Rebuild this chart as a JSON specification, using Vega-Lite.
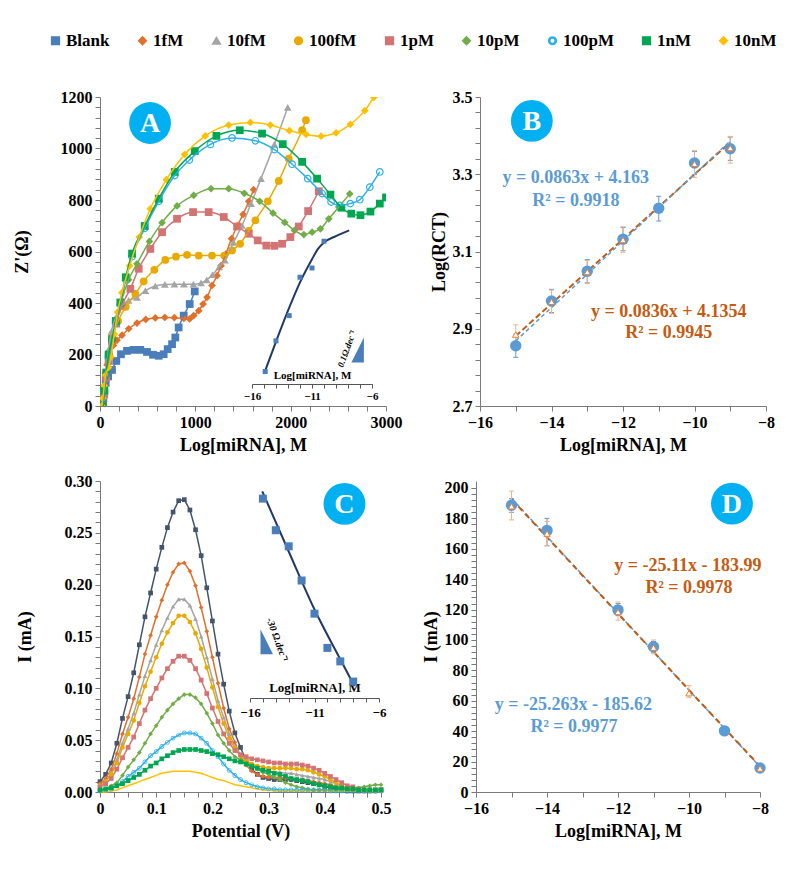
{
  "$schema": "https://vega.github.io/schema/vega-lite/v6.json",
  "background": "white",
  "padding": {"left": 13, "top": 32, "right": 5, "bottom": 5},
  "config": {
    "font": "Liberation Serif",
    "view": {"stroke": null},
    "axis": {"grid": false, "domainColor": "#7a7a7a", "tickColor": "#7a7a7a", "domainWidth": 1, "tickWidth": 1, "tickSize": 5, "labelFont": "Liberation Serif", "labelFontSize": 16, "labelFontWeight": "bold", "labelColor": "#000", "titleFont": "Liberation Serif", "titleFontSize": 18, "titleFontWeight": "bold", "titleColor": "#000", "labelPadding": 3, "labelFlush": false, "labelOverlap": false},
    "text": {"font": "Liberation Serif"}
  },
  "datasets": {
    "nyq": [
      {"s": "Blank", "x": [30,35,45,60,85,126,171,220,283,353,423,493,556,616,668,710,756,790,825,878,941,994], "y": [0,30,60,90,115,140,175,201,214,218,218,210,199,195,201,221,240,266,305,351,396,445]},
      {"s": "1fM", "x": [30,40,55,75,100,140,178,231,301,388,480,580,680,780,880,940,983,1036,1081,1123,1175,1228,1270,1320,1380,1440,1501,1560,1612], "y": [0,50,110,160,200,235,255,275,300,322,336,342,344,343,340,338,351,370,396,422,468,506,545,590,650,700,744,795,840]},
      {"s": "10fM", "x": [30,45,65,90,120,160,220,300,388,476,580,680,780,880,980,1060,1120,1180,1250,1311,1400,1490,1584,1689,1829,1969], "y": [0,60,140,220,290,340,385,410,422,448,466,472,473,473,473,478,490,510,540,566,635,701,786,883,1016,1160]},
      {"s": "100fM", "x": [30,45,65,90,130,190,270,371,458,570,685,797,913,1036,1175,1304,1385,1470,1560,1630,1760,1875,1980,2120,2160], "y": [0,60,130,200,270,330,385,435,484,529,567,580,587,584,584,584,604,630,680,721,795,874,961,1071,1110]},
      {"s": "1pM", "x": [30,45,65,90,125,170,230,318,406,528,651,808,976,1140,1298,1438,1560,1654,1745,1829,1910,1997,2085,2183,2295], "y": [0,45,110,175,250,320,390,455,533,610,675,727,753,753,734,697,669,643,623,622,630,656,697,757,834]},
      {"s": "10pM", "x": [30,45,65,90,125,170,225,300,388,518,651,808,983,1165,1350,1514,1675,1815,1938,2039,2138,2225,2312,2400,2505,2620], "y": [0,50,115,180,250,330,410,490,552,639,712,777,818,844,844,826,795,749,713,682,666,675,688,727,773,824]},
      {"s": "100pM", "x": [30,45,65,90,126,165,213,270,336,469,616,784,937,1158,1385,1630,1829,2015,2179,2330,2424,2515,2626,2725,2830,2935], "y": [0,55,125,190,250,320,395,490,580,690,795,895,955,1016,1041,1030,996,939,883,825,792,779,786,801,850,909]},
      {"s": "1nM", "x": [30,45,65,90,126,165,213,270,336,469,616,784,994,1221,1466,1700,1917,2120,2277,2417,2532,2636,2732,2837,2935,3000], "y": [0,60,130,200,260,330,402,500,592,699,805,909,990,1049,1071,1058,1017,948,883,821,770,747,741,755,786,810]},
      {"s": "10nM", "x": [20,30,45,60,90,115,150,185,230,311,412,528,696,888,1105,1350,1577,1787,1987,2161,2319,2476,2626,2777,2872], "y": [0,30,80,120,150,190,280,365,440,545,656,766,879,977,1049,1091,1101,1091,1069,1055,1048,1061,1094,1147,1199]}
    ],
    "ains_line": [{"x": -15, "y": 125}, {"x": -14, "y": 250}, {"x": -13, "y": 370}, {"x": -12, "y": 480}, {"x": -11, "y": 570}, {"x": -10.5, "y": 610}, {"x": -10, "y": 635}, {"x": -9, "y": 660}, {"x": -7.9, "y": 682}],
    "ains_pts": [{"x": -14.9, "y": 134}, {"x": -14, "y": 253}, {"x": -12.9, "y": 351}, {"x": -12, "y": 500}, {"x": -11, "y": 536}, {"x": -10, "y": 640}],
    "dpv": [
      {"v":0.00,"Blank":0.010,"1fM":0.008,"10fM":0.007,"100fM":0.006,"1pM":0.005,"10pM":0.002,"100pM":0.001,"1nM":0.002,"10nM":0.000},
      {"v":0.01,"Blank":0.017,"1fM":0.013,"10fM":0.011,"100fM":0.010,"1pM":0.008,"10pM":0.003,"100pM":0.002,"1nM":0.003,"10nM":0.000},
      {"v":0.02,"Blank":0.028,"1fM":0.022,"10fM":0.018,"100fM":0.017,"1pM":0.013,"10pM":0.006,"100pM":0.003,"1nM":0.004,"10nM":0.001},
      {"v":0.03,"Blank":0.047,"1fM":0.037,"10fM":0.031,"100fM":0.028,"1pM":0.022,"10pM":0.009,"100pM":0.006,"1nM":0.006,"10nM":0.002},
      {"v":0.04,"Blank":0.071,"1fM":0.056,"10fM":0.047,"100fM":0.043,"1pM":0.033,"10pM":0.016,"100pM":0.010,"1nM":0.008,"10nM":0.004},
      {"v":0.05,"Blank":0.092,"1fM":0.072,"10fM":0.061,"100fM":0.056,"1pM":0.043,"10pM":0.024,"100pM":0.015,"1nM":0.011,"10nM":0.006},
      {"v":0.06,"Blank":0.115,"1fM":0.090,"10fM":0.076,"100fM":0.069,"1pM":0.053,"10pM":0.031,"100pM":0.019,"1nM":0.014,"10nM":0.008},
      {"v":0.07,"Blank":0.142,"1fM":0.111,"10fM":0.094,"100fM":0.086,"1pM":0.066,"10pM":0.038,"100pM":0.023,"1nM":0.017,"10nM":0.010},
      {"v":0.08,"Blank":0.169,"1fM":0.133,"10fM":0.112,"100fM":0.102,"1pM":0.079,"10pM":0.047,"100pM":0.029,"1nM":0.021,"10nM":0.012},
      {"v":0.09,"Blank":0.192,"1fM":0.151,"10fM":0.127,"100fM":0.116,"1pM":0.090,"10pM":0.056,"100pM":0.035,"1nM":0.025,"10nM":0.014},
      {"v":0.10,"Blank":0.215,"1fM":0.169,"10fM":0.142,"100fM":0.130,"1pM":0.100,"10pM":0.064,"100pM":0.039,"1nM":0.028,"10nM":0.016},
      {"v":0.11,"Blank":0.236,"1fM":0.185,"10fM":0.156,"100fM":0.143,"1pM":0.110,"10pM":0.072,"100pM":0.044,"1nM":0.032,"10nM":0.018},
      {"v":0.12,"Blank":0.255,"1fM":0.200,"10fM":0.168,"100fM":0.154,"1pM":0.119,"10pM":0.079,"100pM":0.048,"1nM":0.035,"10nM":0.019},
      {"v":0.13,"Blank":0.270,"1fM":0.212,"10fM":0.179,"100fM":0.163,"1pM":0.126,"10pM":0.085,"100pM":0.052,"1nM":0.038,"10nM":0.020},
      {"v":0.14,"Blank":0.281,"1fM":0.220,"10fM":0.186,"100fM":0.170,"1pM":0.131,"10pM":0.090,"100pM":0.055,"1nM":0.040,"10nM":0.020},
      {"v":0.15,"Blank":0.282,"1fM":0.221,"10fM":0.186,"100fM":0.170,"1pM":0.131,"10pM":0.094,"100pM":0.057,"1nM":0.041,"10nM":0.020},
      {"v":0.16,"Blank":0.272,"1fM":0.213,"10fM":0.180,"100fM":0.164,"1pM":0.127,"10pM":0.094,"100pM":0.057,"1nM":0.041,"10nM":0.020},
      {"v":0.17,"Blank":0.253,"1fM":0.199,"10fM":0.167,"100fM":0.153,"1pM":0.119,"10pM":0.091,"100pM":0.056,"1nM":0.041,"10nM":0.019},
      {"v":0.18,"Blank":0.228,"1fM":0.178,"10fM":0.150,"100fM":0.138,"1pM":0.108,"10pM":0.085,"100pM":0.052,"1nM":0.040,"10nM":0.018},
      {"v":0.19,"Blank":0.197,"1fM":0.155,"10fM":0.130,"100fM":0.120,"1pM":0.095,"10pM":0.076,"100pM":0.047,"1nM":0.039,"10nM":0.016},
      {"v":0.20,"Blank":0.165,"1fM":0.130,"10fM":0.109,"100fM":0.101,"1pM":0.081,"10pM":0.066,"100pM":0.040,"1nM":0.037,"10nM":0.014},
      {"v":0.21,"Blank":0.133,"1fM":0.105,"10fM":0.088,"100fM":0.082,"1pM":0.068,"10pM":0.055,"100pM":0.034,"1nM":0.036,"10nM":0.012},
      {"v":0.22,"Blank":0.104,"1fM":0.081,"10fM":0.072,"100fM":0.066,"1pM":0.056,"10pM":0.047,"100pM":0.027,"1nM":0.034,"10nM":0.011},
      {"v":0.23,"Blank":0.078,"1fM":0.061,"10fM":0.056,"100fM":0.052,"1pM":0.047,"10pM":0.040,"100pM":0.021,"1nM":0.032,"10nM":0.009},
      {"v":0.24,"Blank":0.057,"1fM":0.048,"10fM":0.044,"100fM":0.042,"1pM":0.040,"10pM":0.034,"100pM":0.016,"1nM":0.030,"10nM":0.007},
      {"v":0.25,"Blank":0.043,"1fM":0.034,"10fM":0.036,"100fM":0.035,"1pM":0.036,"10pM":0.031,"100pM":0.012,"1nM":0.029,"10nM":0.006},
      {"v":0.26,"Blank":0.030,"1fM":0.026,"10fM":0.030,"100fM":0.030,"1pM":0.034,"10pM":0.028,"100pM":0.009,"1nM":0.027,"10nM":0.005},
      {"v":0.27,"Blank":0.022,"1fM":0.020,"10fM":0.026,"100fM":0.027,"1pM":0.032,"10pM":0.025,"100pM":0.007,"1nM":0.025,"10nM":0.004},
      {"v":0.28,"Blank":0.017,"1fM":0.017,"10fM":0.023,"100fM":0.025,"1pM":0.031,"10pM":0.022,"100pM":0.005,"1nM":0.023,"10nM":0.003},
      {"v":0.29,"Blank":0.014,"1fM":0.015,"10fM":0.021,"100fM":0.024,"1pM":0.030,"10pM":0.019,"100pM":0.004,"1nM":0.021,"10nM":0.002},
      {"v":0.30,"Blank":0.013,"1fM":0.014,"10fM":0.020,"100fM":0.023,"1pM":0.029,"10pM":0.017,"100pM":0.003,"1nM":0.020,"10nM":0.002},
      {"v":0.31,"Blank":0.012,"1fM":0.014,"10fM":0.019,"100fM":0.023,"1pM":0.028,"10pM":0.014,"100pM":0.003,"1nM":0.018,"10nM":0.001},
      {"v":0.32,"Blank":0.012,"1fM":0.014,"10fM":0.019,"100fM":0.023,"1pM":0.028,"10pM":0.012,"100pM":0.002,"1nM":0.017,"10nM":0.001},
      {"v":0.33,"Blank":0.012,"1fM":0.013,"10fM":0.018,"100fM":0.023,"1pM":0.027,"10pM":0.009,"100pM":0.002,"1nM":0.015,"10nM":0.001},
      {"v":0.34,"Blank":0.012,"1fM":0.013,"10fM":0.018,"100fM":0.023,"1pM":0.027,"10pM":0.007,"100pM":0.002,"1nM":0.013,"10nM":0.001},
      {"v":0.35,"Blank":0.011,"1fM":0.012,"10fM":0.017,"100fM":0.022,"1pM":0.027,"10pM":0.005,"100pM":0.002,"1nM":0.012,"10nM":0.001},
      {"v":0.36,"Blank":0.010,"1fM":0.012,"10fM":0.016,"100fM":0.022,"1pM":0.026,"10pM":0.004,"100pM":0.002,"1nM":0.011,"10nM":0.001},
      {"v":0.37,"Blank":0.009,"1fM":0.011,"10fM":0.015,"100fM":0.021,"1pM":0.025,"10pM":0.003,"100pM":0.002,"1nM":0.010,"10nM":0.001},
      {"v":0.38,"Blank":0.008,"1fM":0.010,"10fM":0.014,"100fM":0.019,"1pM":0.023,"10pM":0.002,"100pM":0.002,"1nM":0.008,"10nM":0.001},
      {"v":0.39,"Blank":0.007,"1fM":0.009,"10fM":0.013,"100fM":0.017,"1pM":0.021,"10pM":0.002,"100pM":0.002,"1nM":0.007,"10nM":0.001},
      {"v":0.40,"Blank":0.005,"1fM":0.008,"10fM":0.012,"100fM":0.015,"1pM":0.018,"10pM":0.002,"100pM":0.002,"1nM":0.006,"10nM":0.001},
      {"v":0.41,"Blank":0.004,"1fM":0.007,"10fM":0.010,"100fM":0.012,"1pM":0.015,"10pM":0.002,"100pM":0.001,"1nM":0.005,"10nM":0.001},
      {"v":0.42,"Blank":0.003,"1fM":0.005,"10fM":0.008,"100fM":0.009,"1pM":0.012,"10pM":0.002,"100pM":0.001,"1nM":0.004,"10nM":0.001},
      {"v":0.43,"Blank":0.002,"1fM":0.004,"10fM":0.006,"100fM":0.006,"1pM":0.009,"10pM":0.002,"100pM":0.001,"1nM":0.004,"10nM":0.001},
      {"v":0.44,"Blank":0.001,"1fM":0.003,"10fM":0.004,"100fM":0.004,"1pM":0.006,"10pM":0.003,"100pM":0.001,"1nM":0.003,"10nM":0.001},
      {"v":0.45,"Blank":0.001,"1fM":0.002,"10fM":0.003,"100fM":0.003,"1pM":0.005,"10pM":0.003,"100pM":0.001,"1nM":0.003,"10nM":0.001},
      {"v":0.46,"Blank":0.001,"1fM":0.002,"10fM":0.002,"100fM":0.002,"1pM":0.003,"10pM":0.004,"100pM":0.001,"1nM":0.002,"10nM":0.001},
      {"v":0.47,"Blank":0.001,"1fM":0.001,"10fM":0.001,"100fM":0.002,"1pM":0.002,"10pM":0.005,"100pM":0.001,"1nM":0.002,"10nM":0.001},
      {"v":0.48,"Blank":0.001,"1fM":0.001,"10fM":0.001,"100fM":0.001,"1pM":0.002,"10pM":0.006,"100pM":0.001,"1nM":0.002,"10nM":0.001},
      {"v":0.49,"Blank":0.001,"1fM":0.001,"10fM":0.001,"100fM":0.001,"1pM":0.002,"10pM":0.007,"100pM":0.001,"1nM":0.002,"10nM":0.001},
      {"v":0.50,"Blank":0.002,"1fM":0.002,"10fM":0.001,"100fM":0.001,"1pM":0.002,"10pM":0.007,"100pM":0.001,"1nM":0.002,"10nM":0.001}
    ],
    "cins_line": [{"x": -15.05, "y": 0.290}, {"x": -13, "y": 0.232}, {"x": -11, "y": 0.176}, {"x": -9, "y": 0.128}, {"x": -7.9, "y": 0.102}],
    "cins_pts": [{"x": -15, "y": 0.283}, {"x": -14, "y": 0.2525}, {"x": -13, "y": 0.237}, {"x": -12, "y": 0.204}, {"x": -11, "y": 0.172}, {"x": -10, "y": 0.139}, {"x": -9, "y": 0.126}, {"x": -8, "y": 0.1065}],
    "b_blue": [
      {"x": -15, "y": 2.856, "lo": 2.826, "hi": 2.886}, {"x": -14, "y": 2.972, "lo": 2.942, "hi": 3.002}, {"x": -13, "y": 3.049, "lo": 3.019, "hi": 3.079}, {"x": -12, "y": 3.132, "lo": 3.102, "hi": 3.162}, {"x": -11, "y": 3.212, "lo": 3.179, "hi": 3.243}, {"x": -10, "y": 3.329, "lo": 3.299, "hi": 3.359}, {"x": -9, "y": 3.366, "lo": 3.336, "hi": 3.396}
    ],
    "b_orange": [
      {"x": -15, "y": 2.885, "lo": 2.863, "hi": 2.91}, {"x": -14, "y": 2.970, "lo": 2.94, "hi": 3.0}, {"x": -13, "y": 3.047, "lo": 3.017, "hi": 3.077}, {"x": -12, "y": 3.130, "lo": 3.098, "hi": 3.164}, {"x": -10, "y": 3.327, "lo": 3.292, "hi": 3.361}, {"x": -9, "y": 3.368, "lo": 3.329, "hi": 3.398}
    ],
    "b_lines": [{"s": "blue", "x": -15, "y": 2.8685}, {"s": "blue", "x": -9, "y": 3.3863}, {"s": "orange", "x": -15, "y": 2.8814}, {"s": "orange", "x": -9, "y": 3.383}],
    "d_blue": [
      {"x": -15, "y": 188.6, "lo": 184, "hi": 193}, {"x": -14, "y": 172.1, "lo": 162, "hi": 180}, {"x": -12, "y": 119.8, "lo": 116, "hi": 124}, {"x": -11, "y": 95.6, "lo": 92, "hi": 99}, {"x": -9, "y": 40.2, "lo": 38, "hi": 42}, {"x": -8, "y": 15.8, "lo": 14, "hi": 17}
    ],
    "d_orange": [
      {"x": -15, "y": 188.0, "lo": 179, "hi": 198}, {"x": -14, "y": 170.0, "lo": 162, "hi": 178}, {"x": -12, "y": 118.5, "lo": 113, "hi": 125}, {"x": -11, "y": 95.0, "lo": 91, "hi": 100}, {"x": -10, "y": 65.0, "lo": 62, "hi": 70}, {"x": -8, "y": 15.5, "lo": 14.5, "hi": 16.5}
    ],
    "d_lines": [{"s": "blue", "x": -15, "y": 193.3}, {"s": "blue", "x": -8, "y": 16.5}, {"s": "orange", "x": -15, "y": 192.7}, {"s": "orange", "x": -8, "y": 16.9}]
  },
  "spacing": 19,
  "vconcat": [
    {
      "bounds": "flush",
      "spacing": 94,
      "hconcat": [
        {
          "width": 286,
          "height": 309,
          "layer": [
            {
              "layer": [
                {
                  "data": {"name": "nyq"},
                  "transform": [{"flatten": ["x", "y"]}],
                  "mark": {"type": "point", "filled": true, "size": 60, "opacity": 1, "clip": true},
                  "encoding": {
                    "x": {"field": "x", "type": "quantitative", "scale": {"domain": [0, 3000], "nice": false},
                      "axis": {"values": [0,200,400,600,800,1000,1200,1400,1600,1800,2000,2200,2400,2600,2800,3000], "tickCount": 500, "format": "d", "labelExpr": "datum.value % 1000 === 0 ? datum.label : ''", "labelOverlap": false, "title": "Log[miRNA], M", "titlePadding": 6}},
                    "y": {"field": "y", "type": "quantitative", "scale": {"domain": [0, 1200], "nice": false},
                      "axis": {"values": [0,40,80,120,160,200,240,280,320,360,400,440,480,520,560,600,640,680,720,760,800,840,880,920,960,1000,1040,1080,1120,1160,1200], "tickCount": 500, "format": "d", "labelExpr": "datum.value % 200 === 0 ? datum.label : ''", "labelOverlap": false, "title": "Z'(Ω)", "titlePadding": 29}},
                    "color": {"field": "s", "type": "nominal", "scale": {"domain": ["Blank","1fM","10fM","100fM","1pM","10pM","100pM","1nM","10nM"], "range": ["#4A7EBB","#E0702B","#A5A5A5","#E8AA00","#D37373","#70AD47","#2BB0E8","#00A651","#FFC000"]},
                      "legend": {"orient": "none", "legendX": -53, "legendY": -65, "direction": "horizontal", "columns": 9, "title": null, "labelFont": "Liberation Serif", "labelFontWeight": "bold", "labelFontSize": 17, "labelColor": "#000", "symbolSize": 60, "columnPadding": 24, "labelOffset": 2}},
                    "shape": {"field": "s", "type": "nominal", "scale": {"domain": ["Blank","1fM","10fM","100fM","1pM","10pM","100pM","1nM","10nM"], "range": ["square","diamond","triangle-up","circle","square","diamond","M-1,0A1,1,0,1,1,1,0A1,1,0,1,1,-1,0ZM-0.7,0A0.7,0.7,0,1,0,0.7,0A0.7,0.7,0,1,0,-0.7,0Z","square","diamond"]},
                      "legend": {"orient": "none", "legendX": -53, "legendY": -65, "direction": "horizontal", "columns": 9, "title": null, "labelFont": "Liberation Serif", "labelFontWeight": "bold", "labelFontSize": 17, "labelColor": "#000", "symbolSize": 60, "columnPadding": 24, "labelOffset": 2}}
                  }
                },
                {
                  "data": {"name": "nyq"},
                  "transform": [{"flatten": ["x", "y"]}],
                  "mark": {"type": "line", "interpolate": "monotone", "strokeWidth": 1.5, "clip": true},
                  "encoding": {
                    "x": {"field": "x", "type": "quantitative"},
                    "y": {"field": "y", "type": "quantitative"},
                    "color": {"field": "s", "type": "nominal", "scale": {"domain": ["Blank","1fM","10fM","100fM","1pM","10pM","100pM","1nM","10nM"], "range": ["#4A7EBB","#E0702B","#A5A5A5","#E8AA00","#D37373","#70AD47","#2BB0E8","#00A651","#FFC000"]}}
                  }
                },
                {
                  "data": {"values": [{"t": "A"}]},
                  "mark": {"type": "point", "shape": "circle", "filled": true, "size": 1750, "color": "#00B0F0", "opacity": 1},
                  "encoding": {"x": {"datum": 525, "type": "quantitative"}, "y": {"datum": 1099, "type": "quantitative"}}
                },
                {
                  "data": {"values": [{"t": "A"}]},
                  "mark": {"type": "text", "color": "white", "fontSize": 28, "fontWeight": "bold", "baseline": "middle", "align": "center", "dy": 1},
                  "encoding": {"x": {"datum": 525, "type": "quantitative"}, "y": {"datum": 1099, "type": "quantitative"}, "text": {"field": "t"}}
                }
              ]
            },
            {
              "layer": [
                {
                  "data": {"name": "ains_line"},
                  "mark": {"type": "line", "color": "#203864", "strokeWidth": 2, "interpolate": "monotone"},
                  "encoding": {
                    "x": {"field": "x", "type": "quantitative", "scale": {"domain": [-16, -6], "range": [152, 272], "nice": false},
                      "axis": {"orient": "bottom", "offset": -22, "values": [-16,-15,-14,-13,-12,-11,-10,-9,-8,-7,-6], "tickCount": 500, "format": "d", "labelExpr": "(datum.value == -16 || datum.value == -11 || datum.value == -6) ? datum.label : ''", "labelOverlap": false, "tickSize": 4, "labelFontSize": 11, "title": "Log[miRNA], M", "titleFontSize": 11, "titleY": -4, "titleBaseline": "bottom", "labelPadding": 2, "domainColor": "#555", "tickColor": "#555"}},
                    "y": {"field": "y", "type": "quantitative"}
                  }
                },
                {
                  "data": {"name": "ains_pts"},
                  "mark": {"type": "point", "shape": "square", "filled": true, "color": "#4A7EBB", "size": 25, "opacity": 1},
                  "encoding": {"x": {"field": "x", "type": "quantitative"}, "y": {"field": "y", "type": "quantitative"}}
                },
                {
                  "data": {"values": [{}]},
                  "mark": {"type": "point", "shape": "M0.5,-1L0.5,1L-0.5,1Z", "filled": true, "color": "#4A7EBB", "size": 625, "opacity": 1},
                  "encoding": {"x": {"datum": -7.2, "type": "quantitative"}, "y": {"datum": 217, "type": "quantitative"}}
                },
                {
                  "data": {"values": [{}]},
                  "mark": {"type": "text", "text": "0.1Ω.dec⁻¹", "angle": 290, "fontSize": 9, "fontStyle": "italic", "fontWeight": "bold", "color": "#000", "baseline": "middle", "align": "center"},
                  "encoding": {"x": {"datum": -8.1, "type": "quantitative"}, "y": {"datum": 222, "type": "quantitative"}}
                }
              ]
            }
          ],
          "resolve": {"scale": {"x": "independent"}, "axis": {"x": "independent"}}
        },
        {
          "width": 286,
          "height": 309,
          "layer": [
            {
              "data": {"name": "b_lines"},
              "transform": [{"filter": "datum.s == 'orange'"}],
              "mark": {"type": "line", "color": "#C55A11", "strokeDash": [6, 3], "strokeWidth": 2},
              "encoding": {
                "x": {"field": "x", "type": "quantitative", "scale": {"domain": [-16, -8], "nice": false},
                  "axis": {"values": [-16,-15.5,-15,-14.5,-14,-13.5,-13,-12.5,-12,-11.5,-11,-10.5,-10,-9.5,-9,-8.5,-8], "tickCount": 500, "format": "d", "labelExpr": "datum.value % 2 === 0 ? datum.label : ''", "labelOverlap": false, "title": "Log[miRNA], M", "titlePadding": 6}},
                "y": {"field": "y", "type": "quantitative", "scale": {"domain": [2.7, 3.5], "nice": false},
                  "axis": {"values": [2.7,2.74,2.78,2.82,2.86,2.9,2.94,2.98,3.02,3.06,3.1,3.14,3.18,3.22,3.26,3.3,3.34,3.38,3.42,3.46,3.5], "tickCount": 500, "format": ".1f", "labelExpr": "round(datum.value*100) % 20 === 10 ? datum.label : ''", "labelOverlap": false, "title": "Log(RCT)", "titlePadding": 4}}
              }
            },
            {
              "data": {"name": "b_lines"},
              "transform": [{"filter": "datum.s == 'blue'"}],
              "mark": {"type": "line", "color": "#5B9BD5", "strokeDash": [4, 3], "strokeWidth": 1.5},
              "encoding": {"x": {"field": "x", "type": "quantitative"}, "y": {"field": "y", "type": "quantitative"}}
            },
            {
              "data": {"name": "b_blue"},
              "mark": {"type": "rule", "color": "#5B9BD5", "strokeWidth": 1},
              "encoding": {"x": {"field": "x", "type": "quantitative"}, "y": {"field": "lo", "type": "quantitative"}, "y2": {"field": "hi"}}
            },
            {
              "data": {"name": "b_blue"},
              "transform": [{"fold": ["lo", "hi"], "as": ["k", "yv"]}],
              "mark": {"type": "point", "shape": "M-1,0H1", "filled": false, "color": "#5B9BD5", "strokeWidth": 1, "size": 25, "opacity": 1},
              "encoding": {"x": {"field": "x", "type": "quantitative"}, "y": {"field": "yv", "type": "quantitative"}}
            },
            {
              "data": {"name": "b_orange"},
              "mark": {"type": "rule", "color": "#F4B183", "strokeWidth": 1},
              "encoding": {"x": {"field": "x", "type": "quantitative"}, "y": {"field": "lo", "type": "quantitative"}, "y2": {"field": "hi"}}
            },
            {
              "data": {"name": "b_orange"},
              "transform": [{"fold": ["lo", "hi"], "as": ["k", "yv"]}],
              "mark": {"type": "point", "shape": "M-1,0H1", "filled": false, "color": "#F4B183", "strokeWidth": 1, "size": 25, "opacity": 1},
              "encoding": {"x": {"field": "x", "type": "quantitative"}, "y": {"field": "yv", "type": "quantitative"}}
            },
            {
              "data": {"name": "b_blue"},
              "mark": {"type": "point", "shape": "circle", "filled": true, "color": "#5B9BD5", "size": 130, "opacity": 1},
              "encoding": {"x": {"field": "x", "type": "quantitative"}, "y": {"field": "y", "type": "quantitative"}}
            },
            {
              "data": {"name": "b_orange"},
              "mark": {"type": "point", "shape": "triangle-up", "filled": true, "fill": "white", "stroke": "#ED7D31", "strokeWidth": 1, "size": 40, "opacity": 1},
              "encoding": {"x": {"field": "x", "type": "quantitative"}, "y": {"field": "y", "type": "quantitative"}}
            },
            {
              "data": {"values": [{"t": "y = 0.0863x + 4.163", "x": -13.32, "y": 3.29}, {"t": "R² = 0.9918", "x": -13.32, "y": 3.231}]},
              "mark": {"type": "text", "color": "#5B9BD5", "fontSize": 18, "fontWeight": "bold", "align": "center", "baseline": "middle"},
              "encoding": {"x": {"field": "x", "type": "quantitative"}, "y": {"field": "y", "type": "quantitative"}, "text": {"field": "t"}}
            },
            {
              "data": {"values": [{"t": "y = 0.0836x + 4.1354", "x": -10.72, "y": 2.944}, {"t": "R² = 0.9945", "x": -10.72, "y": 2.888}]},
              "mark": {"type": "text", "color": "#C55A11", "fontSize": 18, "fontWeight": "bold", "align": "center", "baseline": "middle"},
              "encoding": {"x": {"field": "x", "type": "quantitative"}, "y": {"field": "y", "type": "quantitative"}, "text": {"field": "t"}}
            },
            {
              "data": {"values": [{"t": "B"}]},
              "mark": {"type": "point", "shape": "circle", "filled": true, "size": 1750, "color": "#00B0F0", "opacity": 1},
              "encoding": {"x": {"datum": -14.55, "type": "quantitative"}, "y": {"datum": 3.438, "type": "quantitative"}}
            },
            {
              "data": {"values": [{"t": "B"}]},
              "mark": {"type": "text", "color": "white", "fontSize": 28, "fontWeight": "bold", "baseline": "middle", "align": "center", "dy": 1},
              "encoding": {"x": {"datum": -14.55, "type": "quantitative"}, "y": {"datum": 3.438, "type": "quantitative"}, "text": {"field": "t"}}
            }
          ]
        }
      ]
    },
    {
      "bounds": "flush",
      "spacing": 95,
      "hconcat": [
        {
          "width": 281,
          "height": 311,
          "layer": [
            {
              "data": {"name": "dpv"},
              "transform": [{"fold": ["Blank","1fM","10fM","100fM","1pM","10pM","100pM","1nM","10nM"], "as": ["s", "i"]}],
              "layer": [
                {
                  "transform": [{"filter": "datum.s == 'Blank'"}],
                  "mark": {"type": "line", "color": "#44546A", "strokeWidth": 1.5},
                  "encoding": {
                    "x": {"field": "v", "type": "quantitative", "scale": {"domain": [0, 0.5], "nice": false},
                      "axis": {"values": [0,0.025,0.05,0.075,0.1,0.125,0.15,0.175,0.2,0.225,0.25,0.275,0.3,0.325,0.35,0.375,0.4,0.425,0.45,0.475,0.5], "tickCount": 500, "labelExpr": "round(datum.value*1000) % 100 === 0 ? format(datum.value, '~g') : ''", "labelOverlap": false, "title": "Potential (V)", "titlePadding": 6}},
                    "y": {"field": "i", "type": "quantitative", "scale": {"domain": [0, 0.3], "nice": false},
                      "axis": {"values": [0,0.01,0.02,0.03,0.04,0.05,0.06,0.07,0.08,0.09,0.1,0.11,0.12,0.13,0.14,0.15,0.16,0.17,0.18,0.19,0.2,0.21,0.22,0.23,0.24,0.25,0.26,0.27,0.28,0.29,0.3], "tickCount": 500, "labelExpr": "round(datum.value*100) % 5 === 0 ? format(datum.value, '.2f') : ''", "labelOverlap": false, "title": "I (mA)", "titlePadding": 30}}
                  }
                },
                {
                  "transform": [{"filter": "datum.s == 'Blank'"}],
                  "mark": {"type": "point", "shape": "square", "filled": true, "color": "#44546A", "size": 22, "opacity": 1},
                  "encoding": {"x": {"field": "v", "type": "quantitative"}, "y": {"field": "i", "type": "quantitative"}}
                },
                {
                  "transform": [{"filter": "datum.s != 'Blank'"}],
                  "mark": {"type": "line", "strokeWidth": 1.5},
                  "encoding": {"x": {"field": "v", "type": "quantitative"}, "y": {"field": "i", "type": "quantitative"},
                    "color": {"field": "s", "type": "nominal", "scale": {"domain": ["Blank","1fM","10fM","100fM","1pM","10pM","100pM","1nM","10nM"], "range": ["#4A7EBB","#E0702B","#A5A5A5","#E8AA00","#D37373","#70AD47","#2BB0E8","#00A651","#FFC000"]}}}
                },
                {
                  "transform": [{"filter": "datum.s != 'Blank' && datum.s != '10nM'"}],
                  "mark": {"type": "point", "filled": true, "size": 22, "opacity": 1},
                  "encoding": {"x": {"field": "v", "type": "quantitative"}, "y": {"field": "i", "type": "quantitative"},
                    "color": {"field": "s", "type": "nominal", "scale": {"domain": ["Blank","1fM","10fM","100fM","1pM","10pM","100pM","1nM","10nM"], "range": ["#4A7EBB","#E0702B","#A5A5A5","#E8AA00","#D37373","#70AD47","#2BB0E8","#00A651","#FFC000"]}},
                    "shape": {"field": "s", "type": "nominal", "scale": {"domain": ["Blank","1fM","10fM","100fM","1pM","10pM","100pM","1nM","10nM"], "range": ["square","diamond","triangle-up","circle","square","diamond","M-1,0A1,1,0,1,1,1,0A1,1,0,1,1,-1,0ZM-0.7,0A0.7,0.7,0,1,0,0.7,0A0.7,0.7,0,1,0,-0.7,0Z","square","diamond"]}}}
                },
                {
                  "data": {"values": [{"t": "C"}]},
                  "mark": {"type": "point", "shape": "circle", "filled": true, "size": 1750, "color": "#00B0F0", "opacity": 1},
                  "encoding": {"x": {"datum": 0.435, "type": "quantitative"}, "y": {"datum": 0.278, "type": "quantitative"}}
                },
                {
                  "data": {"values": [{"t": "C"}]},
                  "mark": {"type": "text", "color": "white", "fontSize": 28, "fontWeight": "bold", "baseline": "middle", "align": "center", "dy": 1},
                  "encoding": {"x": {"datum": 0.435, "type": "quantitative"}, "y": {"datum": 0.278, "type": "quantitative"}, "text": {"field": "t"}}
                }
              ]
            },
            {
              "layer": [
                {
                  "data": {"name": "cins_line"},
                  "mark": {"type": "line", "color": "#203864", "strokeWidth": 2, "interpolate": "monotone"},
                  "encoding": {
                    "x": {"field": "x", "type": "quantitative", "scale": {"domain": [-16, -6], "range": [150, 279], "nice": false},
                      "axis": {"orient": "bottom", "offset": -94, "values": [-16,-15,-14,-13,-12,-11,-10,-9,-8,-7,-6], "tickCount": 500, "format": "d", "labelExpr": "(datum.value == -16 || datum.value == -11 || datum.value == -6) ? datum.label : ''", "labelOverlap": false, "tickSize": 4, "labelFontSize": 13, "title": "Log[miRNA], M", "titleFontSize": 13, "titleY": -4, "titleBaseline": "bottom", "labelPadding": 4, "domainColor": "#555", "tickColor": "#555"}},
                    "y": {"field": "y", "type": "quantitative"}
                  }
                },
                {
                  "data": {"name": "cins_pts"},
                  "mark": {"type": "point", "shape": "square", "filled": true, "color": "#4A7EBB", "size": 64, "opacity": 1},
                  "encoding": {"x": {"field": "x", "type": "quantitative"}, "y": {"field": "y", "type": "quantitative"}}
                },
                {
                  "data": {"values": [{}]},
                  "mark": {"type": "point", "shape": "M-0.5,-1L-0.5,1L0.5,1Z", "filled": true, "color": "#4A7EBB", "size": 625, "opacity": 1},
                  "encoding": {"x": {"datum": -14.7, "type": "quantitative"}, "y": {"datum": 0.145, "type": "quantitative"}}
                },
                {
                  "data": {"values": [{}]},
                  "mark": {"type": "text", "text": "-30 Ω.dec⁻¹", "angle": 70, "fontSize": 10, "fontStyle": "italic", "fontWeight": "bold", "color": "#000", "baseline": "middle", "align": "center"},
                  "encoding": {"x": {"datum": -13.9, "type": "quantitative"}, "y": {"datum": 0.147, "type": "quantitative"}}
                }
              ]
            }
          ],
          "resolve": {"scale": {"x": "independent"}, "axis": {"x": "independent"}}
        },
        {
          "width": 284,
          "height": 311,
          "layer": [
            {
              "data": {"name": "d_lines"},
              "transform": [{"filter": "datum.s == 'blue'"}],
              "mark": {"type": "line", "color": "#5B9BD5", "strokeDash": [4, 3], "strokeWidth": 1.5},
              "encoding": {
                "x": {"field": "x", "type": "quantitative", "scale": {"domain": [-16, -8], "nice": false},
                  "axis": {"values": [-16,-15.5,-15,-14.5,-14,-13.5,-13,-12.5,-12,-11.5,-11,-10.5,-10,-9.5,-9,-8.5,-8], "tickCount": 500, "format": "d", "labelExpr": "datum.value % 2 === 0 ? datum.label : ''", "labelOverlap": false, "title": "Log[miRNA], M", "titlePadding": 6}},
                "y": {"field": "y", "type": "quantitative", "scale": {"domain": [0, 204.6], "nice": false},
                  "axis": {"values": [0,4,8,12,16,20,24,28,32,36,40,44,48,52,56,60,64,68,72,76,80,84,88,92,96,100,104,108,112,116,120,124,128,132,136,140,144,148,152,156,160,164,168,172,176,180,184,188,192,196,200], "tickCount": 500, "format": "d", "labelExpr": "datum.value % 20 === 0 ? datum.label : ''", "labelOverlap": false, "title": "I (mA)", "titlePadding": 4}}
              }
            },
            {
              "data": {"name": "d_lines"},
              "transform": [{"filter": "datum.s == 'orange'"}],
              "mark": {"type": "line", "color": "#C55A11", "strokeDash": [6, 4], "strokeWidth": 2},
              "encoding": {"x": {"field": "x", "type": "quantitative"}, "y": {"field": "y", "type": "quantitative"}}
            },
            {
              "data": {"name": "d_blue"},
              "mark": {"type": "rule", "color": "#5B9BD5", "strokeWidth": 1},
              "encoding": {"x": {"field": "x", "type": "quantitative"}, "y": {"field": "lo", "type": "quantitative"}, "y2": {"field": "hi"}}
            },
            {
              "data": {"name": "d_blue"},
              "transform": [{"fold": ["lo", "hi"], "as": ["k", "yv"]}],
              "mark": {"type": "point", "shape": "M-1,0H1", "filled": false, "color": "#5B9BD5", "strokeWidth": 1, "size": 25, "opacity": 1},
              "encoding": {"x": {"field": "x", "type": "quantitative"}, "y": {"field": "yv", "type": "quantitative"}}
            },
            {
              "data": {"name": "d_orange"},
              "mark": {"type": "rule", "color": "#F4B183", "strokeWidth": 1},
              "encoding": {"x": {"field": "x", "type": "quantitative"}, "y": {"field": "lo", "type": "quantitative"}, "y2": {"field": "hi"}}
            },
            {
              "data": {"name": "d_orange"},
              "transform": [{"fold": ["lo", "hi"], "as": ["k", "yv"]}],
              "mark": {"type": "point", "shape": "M-1,0H1", "filled": false, "color": "#F4B183", "strokeWidth": 1, "size": 25, "opacity": 1},
              "encoding": {"x": {"field": "x", "type": "quantitative"}, "y": {"field": "yv", "type": "quantitative"}}
            },
            {
              "data": {"name": "d_blue"},
              "mark": {"type": "point", "shape": "circle", "filled": true, "color": "#5B9BD5", "size": 130, "opacity": 1},
              "encoding": {"x": {"field": "x", "type": "quantitative"}, "y": {"field": "y", "type": "quantitative"}}
            },
            {
              "data": {"name": "d_orange"},
              "mark": {"type": "point", "shape": "triangle-up", "filled": true, "fill": "white", "stroke": "#ED7D31", "strokeWidth": 1, "size": 40, "opacity": 1},
              "encoding": {"x": {"field": "x", "type": "quantitative"}, "y": {"field": "y", "type": "quantitative"}}
            },
            {
              "data": {"values": [{"t": "y = -25.11x - 183.99", "x": -10.03, "y": 148.4}, {"t": "R² = 0.9978", "x": -10.0, "y": 134}]},
              "mark": {"type": "text", "color": "#C55A11", "fontSize": 18, "fontWeight": "bold", "align": "center", "baseline": "middle"},
              "encoding": {"x": {"field": "x", "type": "quantitative"}, "y": {"field": "y", "type": "quantitative"}, "text": {"field": "t"}}
            },
            {
              "data": {"values": [{"t": "y = -25.263x - 185.62", "x": -13.26, "y": 57}, {"t": "R² = 0.9977", "x": -13.24, "y": 42.9}]},
              "mark": {"type": "text", "color": "#5B9BD5", "fontSize": 18, "fontWeight": "bold", "align": "center", "baseline": "middle"},
              "encoding": {"x": {"field": "x", "type": "quantitative"}, "y": {"field": "y", "type": "quantitative"}, "text": {"field": "t"}}
            },
            {
              "data": {"values": [{"t": "D"}]},
              "mark": {"type": "point", "shape": "circle", "filled": true, "size": 1750, "color": "#00B0F0", "opacity": 1},
              "encoding": {"x": {"datum": -8.79, "type": "quantitative"}, "y": {"datum": 189.7, "type": "quantitative"}}
            },
            {
              "data": {"values": [{"t": "D"}]},
              "mark": {"type": "text", "color": "white", "fontSize": 28, "fontWeight": "bold", "baseline": "middle", "align": "center", "dy": 1},
              "encoding": {"x": {"datum": -8.79, "type": "quantitative"}, "y": {"datum": 189.7, "type": "quantitative"}, "text": {"field": "t"}}
            }
          ]
        }
      ]
    }
  ]
}
